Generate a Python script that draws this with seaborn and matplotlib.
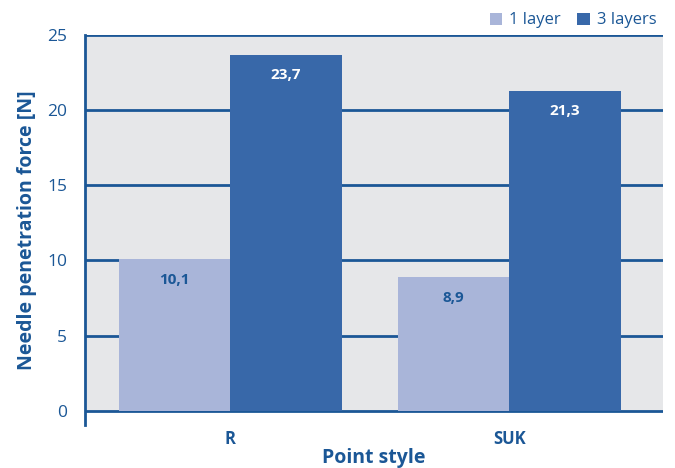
import pandas as pd
import numpy as np
import matplotlib
matplotlib.use("Agg")
import matplotlib.pyplot as plt
import seaborn as sns

# data
point_styles = ["R", "SUK"]
layers = ["1 layer", "3 layers"]
force_1_layer = [10.1, 8.9]
force_3_layers = [23.7, 21.3]

BLUE = "#1b5796"
LIGHT = "#a9b5d9"
DARK = "#3868a9"
GREY = "#e6e7e9"

df = pd.DataFrame({
    "style": point_styles * 2,
    "layers": [layers[0]] * 2 + [layers[1]] * 2,
    "force": force_1_layer + force_3_layers,
})

sns.set_style("white")
plt.rcParams["font.family"] = ["Open Sans", "DejaVu Sans"]

fig = plt.figure(figsize=(6.75, 4.68), dpi=100)
ax = fig.add_axes([0.126, 0.092, 0.856, 0.833])

ax.axhspan(0, 25, color=GREY, zorder=0, lw=0)
sns.barplot(data=df, x="style", y="force", hue="layers", hue_order=layers,
            palette=[LIGHT, DARK], width=0.8, saturation=1, ax=ax, zorder=2,
            linewidth=0, edgecolor="none")

for yv in range(0, 26, 5):
    ax.axhline(yv, color=BLUE, lw=2, zorder=1)

ax.set_ylim(-0.95, 25)
ax.set_xlim(-0.52, 1.55)
ax.set_yticks(range(0, 26, 5))
ax.tick_params(axis="y", length=10, width=2, color=BLUE, labelcolor=BLUE,
               labelsize=12.5, pad=3)
ax.tick_params(axis="x", length=0, labelcolor=BLUE, labelsize=12, pad=4)
for lab in ax.get_xticklabels():
    lab.set_fontweight("bold")

for s in ["top", "right", "bottom"]:
    ax.spines[s].set_visible(False)
ax.spines["left"].set_color(BLUE)
ax.spines["left"].set_linewidth(2)

ax.set_xlabel("Point style", color=BLUE, fontsize=14, fontweight="bold", labelpad=0)
ax.set_ylabel("Needle penetration force [N]", color=BLUE, fontsize=14,
              fontweight="bold", labelpad=7)

# value labels inside the bars, decimal comma
for cont, vals, col in zip(ax.containers, [force_1_layer, force_3_layers], [BLUE, "white"]):
    ax.bar_label(cont, labels=[f"{v:.1f}".replace(".", ",") for v in vals],
                 padding=-20, color=col, fontsize=11, fontweight="bold")

leg = ax.legend(loc="lower right", bbox_to_anchor=(1.0, 1.0), ncol=2, frameon=False,
                fontsize=12, handlelength=0.75, handleheight=0.75, handletextpad=0.4,
                columnspacing=1.0, borderaxespad=0.0)
for t in leg.get_texts():
    t.set_color(BLUE)

fig.savefig("out.png", dpi=100)
